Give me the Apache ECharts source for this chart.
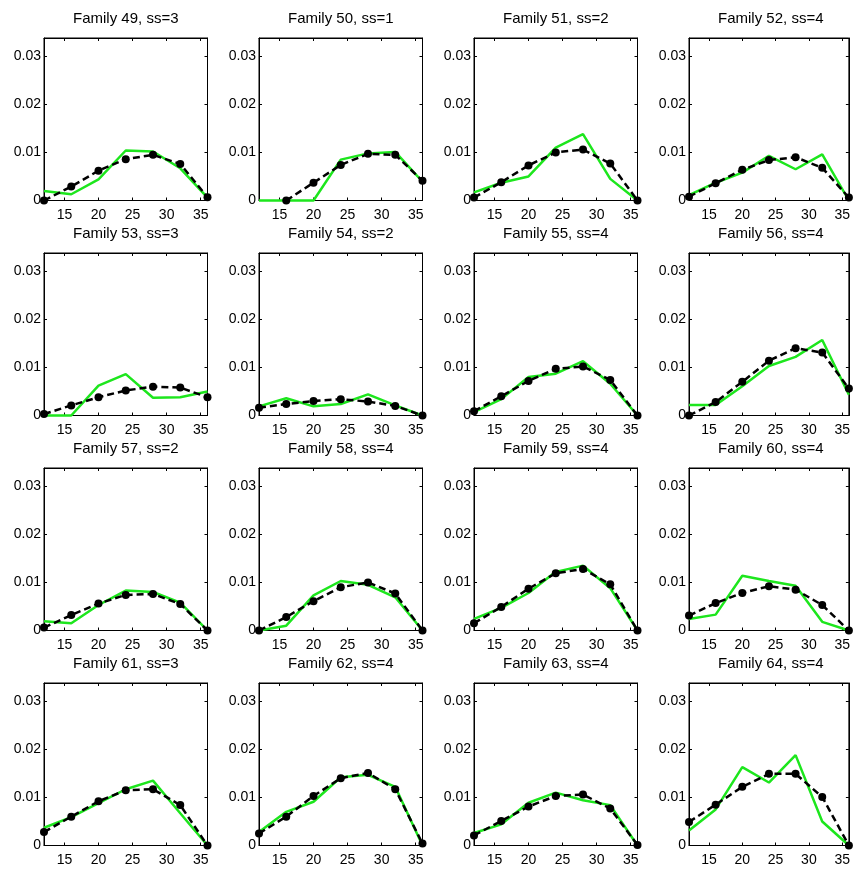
<!DOCTYPE html>
<html>
<head>
<meta charset="utf-8">
<script src="https://cdn.jsdelivr.net/npm/echarts@6/dist/echarts.min.js"></script>
<style>
  html, body { margin: 0; padding: 0; background: #fff; }
  #chart { width: 853px; height: 870px; }
</style>
</head>
<body>
<div id="chart"></div>
<script>
// Age classes on the x axis and tick values
const ages = [12, 16, 20, 24, 28, 32, 36];
const xTicks = [15, 20, 25, 30, 35];
const yTicks = [0, 0.01, 0.02, 0.03];

// Family ids and their ss values
const familyIds = [49, 50, 51, 52, 53, 54, 55, 56, 57, 58, 59, 60, 61, 62, 63, 64];
const ssValues  = [3, 1, 2, 4, 3, 2, 4, 4, 2, 4, 4, 4, 3, 4, 4, 4];

// Observed frequencies (black dashed, dots) and fitted curves (green)
const obs49 = [0, 0.0029, 0.0062, 0.0086, 0.0095, 0.0076, 0.0007];
const fit49 = [0.0020, 0.0013, 0.0044, 0.0104, 0.0102, 0.0067, 0.0006];
const obs50 = [null, 0, 0.0037, 0.0074, 0.0097, 0.0095, 0.0041];
const fit50 = [0, 0, 0, 0.0085, 0.0098, 0.0101, 0.0039];
const obs51 = [0.0006, 0.0038, 0.0073, 0.0100, 0.0106, 0.0077, 0];
const fit51 = [0.0017, 0.0037, 0.0050, 0.0110, 0.0138, 0.0045, 0];
const obs52 = [0.0008, 0.0036, 0.0064, 0.0084, 0.0090, 0.0068, 0.0006];
const fit52 = [0.0011, 0.0037, 0.0058, 0.0093, 0.0065, 0.0096, 0];
const obs53 = [0.0003, 0.0021, 0.0038, 0.0052, 0.0060, 0.0058, 0.0038];
const fit53 = [0, 0, 0.0062, 0.0086, 0.0037, 0.0038, 0.0050];
const obs54 = [0.0016, 0.0024, 0.0030, 0.0034, 0.0029, 0.0020, 0];
const fit54 = [0.0019, 0.0036, 0.0019, 0.0024, 0.0044, 0.0021, 0];
const obs55 = [0.0009, 0.0040, 0.0072, 0.0097, 0.0102, 0.0074, 0];
const fit55 = [0.0007, 0.0034, 0.0080, 0.0087, 0.0113, 0.0066, 0];
const obs56 = [0, 0.0028, 0.0070, 0.0114, 0.0140, 0.0131, 0.0056];
const fit56 = [0.0022, 0.0022, 0.0061, 0.0103, 0.0122, 0.0157, 0.0043];
const obs57 = [0.0006, 0.0032, 0.0056, 0.0074, 0.0076, 0.0055, 0];
const fit57 = [0.0019, 0.0015, 0.0053, 0.0083, 0.0080, 0.0058, 0];
const obs58 = [0, 0.0028, 0.0061, 0.0090, 0.0100, 0.0077, 0];
const fit58 = [0, 0.0010, 0.0073, 0.0103, 0.0095, 0.0069, 0];
const obs59 = [0.0015, 0.0049, 0.0087, 0.0119, 0.0128, 0.0096, 0];
const fit59 = [0.0024, 0.0047, 0.0078, 0.0122, 0.0135, 0.0088, 0];
const obs60 = [0.0031, 0.0057, 0.0078, 0.0092, 0.0085, 0.0053, 0];
const fit60 = [0.0024, 0.0033, 0.0114, 0.0103, 0.0093, 0.0018, 0];
const obs61 = [0.0028, 0.0060, 0.0092, 0.0115, 0.0117, 0.0084, 0];
const fit61 = [0.0037, 0.0059, 0.0088, 0.0117, 0.0135, 0.0067, 0];
const obs62 = [0.0025, 0.0060, 0.0103, 0.0140, 0.0151, 0.0117, 0.0004];
const fit62 = [0.0028, 0.0070, 0.0091, 0.0142, 0.0147, 0.0122, 0];
const obs63 = [0.0021, 0.0051, 0.0081, 0.0103, 0.0106, 0.0077, 0.0001];
const fit63 = [0.0026, 0.0044, 0.0089, 0.0110, 0.0094, 0.0084, 0];
const obs64 = [0.0049, 0.0085, 0.0122, 0.0149, 0.0149, 0.0101, 0];
const fit64 = [0.0031, 0.0075, 0.0163, 0.0131, 0.0188, 0.0050, 0];

const observed = [obs49, obs50, obs51, obs52, obs53, obs54, obs55, obs56,
                  obs57, obs58, obs59, obs60, obs61, obs62, obs63, obs64];
const fitted = [fit49, fit50, fit51, fit52, fit53, fit54, fit55, fit56,
                fit57, fit58, fit59, fit60, fit61, fit62, fit63, fit64];

// Panel layout (pixels)
const colLeft = [44, 259, 474, 689];
const rowTop = [38, 253, 468, 683];
const panelW = 163.5;
const panelH = 162.5;
const yMax = 0.0338;

const FONT = "'Liberation Sans', Arial, Helvetica, sans-serif";
const GREEN = '#1de61d';

const grids = [], xAxes = [], yAxes = [], series = [], titles = [];

familyIds.forEach((fid, i) => {
  const r = Math.floor(i / 4), c = i % 4;
  grids.push({
    left: colLeft[c], top: rowTop[r], width: panelW, height: panelH,
    show: true, borderColor: '#000', borderWidth: 1, backgroundColor: '#fff',
    containLabel: false
  });
  titles.push({
    text: 'Family ' + fid + ', ss=' + ssValues[i],
    left: colLeft[c] + panelW / 2,
    top: rowTop[r] - 27,
    textAlign: 'center',
    padding: 0,
    textStyle: { fontFamily: FONT, fontSize: 15, fontWeight: 'normal', color: '#000' }
  });

  const baseX = {
    gridIndex: i, type: 'value', min: 12, max: 36,
    splitLine: { show: false },
    axisLine: { show: true, onZero: false, lineStyle: { color: '#000', width: 1 } },
    axisTick: { show: true, inside: true, length: 3, customValues: xTicks,
                lineStyle: { color: '#000', width: 1 } }
  };
  xAxes.push(Object.assign({}, baseX, {
    position: 'bottom',
    axisLabel: { show: true, customValues: xTicks, margin: 8,
                 fontFamily: FONT, fontSize: 14, color: '#000' }
  }));
  xAxes.push(Object.assign({}, baseX, {
    position: 'top', axisLabel: { show: false }
  }));

  const baseY = {
    gridIndex: i, type: 'value', min: 0, max: yMax,
    splitLine: { show: false },
    axisLine: { show: true, onZero: false, lineStyle: { color: '#000', width: 1 } },
    axisTick: { show: true, inside: true, length: 3, customValues: yTicks,
                lineStyle: { color: '#000', width: 1 } }
  };
  yAxes.push(Object.assign({}, baseY, {
    position: 'left',
    axisLabel: { show: true, customValues: yTicks, margin: 3,
                 fontFamily: FONT, fontSize: 14, color: '#000' }
  }));
  yAxes.push(Object.assign({}, baseY, {
    position: 'right', axisLabel: { show: false }
  }));

  series.push({
    name: 'fitted', type: 'line', xAxisIndex: 2 * i, yAxisIndex: 2 * i,
    data: ages.map((a, k) => [a, fitted[i][k]]),
    showSymbol: false, symbol: 'none', clip: false, z: 2,
    lineStyle: { color: GREEN, width: 2.5 },
    animation: false
  });
  series.push({
    name: 'observed', type: 'line', xAxisIndex: 2 * i, yAxisIndex: 2 * i,
    data: ages.map((a, k) => [a, observed[i][k]]),
    symbol: 'circle', symbolSize: 8, showAllSymbol: true, clip: false, z: 3,
    connectNulls: false,
    itemStyle: { color: '#000' },
    lineStyle: { color: '#000', width: 2.5, type: [7, 4] },
    animation: false
  });
});

const chart = echarts.init(document.getElementById('chart'), null, { renderer: 'canvas' });
chart.setOption({
  animation: false,
  backgroundColor: '#fff',
  title: titles,
  grid: grids,
  xAxis: xAxes,
  yAxis: yAxes,
  series: series
});
</script>
</body>
</html>
